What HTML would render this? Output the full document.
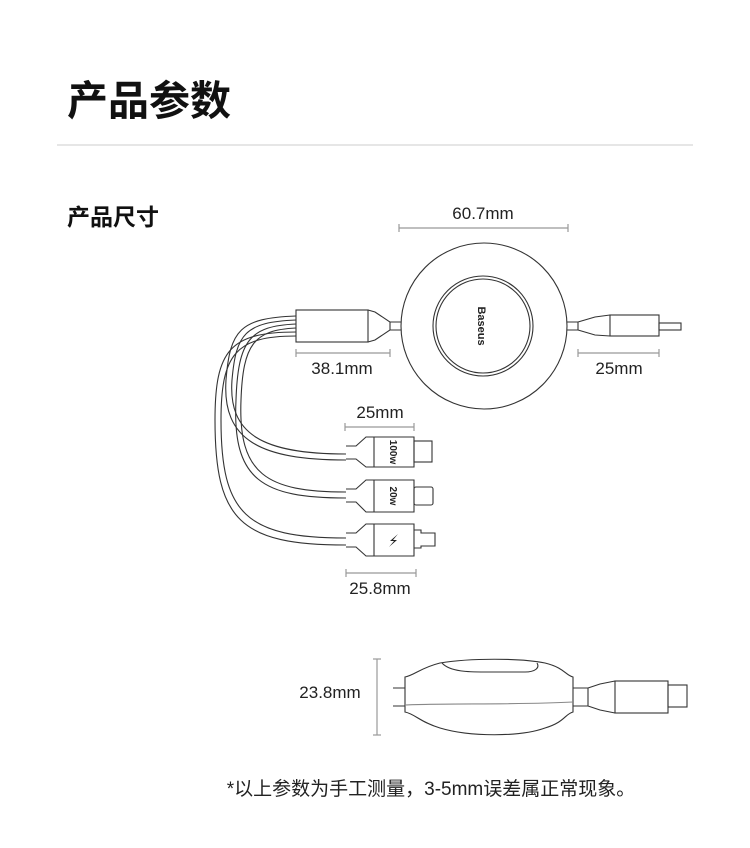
<!DOCTYPE html>
<html><head><meta charset="utf-8"><style>
body{margin:0;background:#fff;width:750px;height:843px;overflow:hidden}
</style></head><body>
<svg width="750" height="843" viewBox="0 0 750 843" xmlns="http://www.w3.org/2000/svg" font-family="Liberation Sans, Noto Sans CJK SC, sans-serif">
<text x="67" y="115" font-size="41" font-weight="bold" fill="#111" font-family="Liberation Sans, Noto Sans CJK SC, sans-serif">产品参数</text>
<line x1="57" y1="145" x2="693" y2="145" stroke="#ccc" stroke-width="1"/>
<text x="67" y="225" font-size="23" font-weight="bold" fill="#111" font-family="Liberation Sans, Noto Sans CJK SC, sans-serif">产品尺寸</text>

<g stroke="#999" stroke-width="1.2" fill="none">
<line x1="399" y1="228" x2="568" y2="228"/><line x1="399" y1="224" x2="399" y2="232"/><line x1="568" y1="224" x2="568" y2="232"/>
<line x1="296" y1="353" x2="390" y2="353"/><line x1="296" y1="349" x2="296" y2="357"/><line x1="390" y1="349" x2="390" y2="357"/>
<line x1="578" y1="353" x2="659" y2="353"/><line x1="578" y1="349" x2="578" y2="357"/><line x1="659" y1="349" x2="659" y2="357"/>
<line x1="345" y1="427" x2="414" y2="427"/><line x1="345" y1="423" x2="345" y2="431"/><line x1="414" y1="423" x2="414" y2="431"/>
<line x1="346" y1="573" x2="416" y2="573"/><line x1="346" y1="569" x2="346" y2="577"/><line x1="416" y1="569" x2="416" y2="577"/>
<line x1="377" y1="659" x2="377" y2="735"/><line x1="373" y1="659" x2="381" y2="659"/><line x1="373" y1="735" x2="381" y2="735"/>
</g>
<g font-size="17" fill="#222" text-anchor="middle">
<text x="483" y="219">60.7mm</text>
<text x="342" y="374">38.1mm</text>
<text x="619" y="374">25mm</text>
<text x="380" y="418">25mm</text>
<text x="380" y="594">25.8mm</text>
<text x="330" y="698">23.8mm</text>
</g>

<g stroke="#333" stroke-width="1.1" fill="none">
<circle cx="484" cy="326" r="83"/>
<circle cx="483" cy="326" r="50"/>
<circle cx="483" cy="326" r="47"/>
<rect x="296" y="310" width="72" height="32"/>
<path d="M368 310 L375 312 L390 322 L390 330 L375 340 L368 342"/>
<path d="M390 322 L401 322 M390 330 L401 330"/>
<path d="M567 322 L578 322 L578 330 L567 330 M578 322 L595 317 L610 315 M578 330 L595 335 L610 336"/>
<rect x="610" y="315" width="49" height="21"/>
<rect x="659" y="323" width="22" height="7"/>
<path d="M296 316 C240 318 230 330 226 380 C222 440 260 460 346 460"/>
<path d="M296 320 C245 322 236 334 232 380 C228 434 262 454 346 454"/>
<path d="M296 324 C250 326 238 340 236 400 C232 480 262 498 346 498"/>
<path d="M296 328 C254 330 243 344 241 400 C238 474 266 492 346 492"/>
<path d="M296 332 C230 332 215 350 215 420 C215 520 240 545 346 545"/>
<path d="M296 336 C236 336 221 354 221 420 C221 514 246 538 346 538"/>
<g>
<path d="M346 446 L356 446 L366 437 L414 437 L414 467 L366 467 L356 459 L346 459"/>
<line x1="374" y1="437" x2="374" y2="467"/>
<rect x="414" y="441" width="18" height="21"/>
</g>
<g>
<path d="M346 489 L356 489 L366 480 L414 480 L414 512 L366 512 L356 502 L346 502"/>
<line x1="374" y1="480" x2="374" y2="512"/>
<rect x="414" y="487" width="19" height="18" rx="2"/>
</g>
<g>
<path d="M346 533 L356 533 L366 524 L414 524 L414 556 L366 556 L356 547 L346 547"/>
<line x1="374" y1="524" x2="374" y2="556"/>
<path d="M414 530 L421 530 L421 533 L435 533 L435 546 L421 546 L421 548 L414 548"/>
</g>
<path d="M405 677 C415 675 420 668 440 663 C470 658 520 658 545 663 C565 668 565 675 573 677 L573 712 C565 714 565 722 545 728 C520 737 470 737 440 728 C420 722 415 714 405 712 Z"/>
<path d="M442 663 C450 672 470 672 485 672 L525 672 C535 672 540 668 537 663"/>
<path d="M405 705 C440 703 520 705 573 702" stroke="#888"/>
<path d="M393 688 L405 688 M393 706 L405 706"/>
<path d="M573 688 L588 688 L588 706 L573 706 M588 688 L600 684 L615 681 M588 706 L600 710 L615 713"/>
<rect x="615" y="681" width="53" height="32"/>
<rect x="668" y="685" width="19" height="22"/>
</g>
<text transform="translate(478,326) rotate(90)" font-size="11" font-weight="bold" fill="#222" text-anchor="middle">Baseus</text>
<g font-size="10" font-weight="bold" fill="#222" text-anchor="middle">
<text transform="translate(390,452) rotate(90)">100w</text>
<text transform="translate(390,496) rotate(90)">20w</text>
</g>
<path d="M398 534 L390 541 L394 541 L389 547 L397 540 L393 540 Z" fill="#222"/>
<text x="431" y="795" font-size="19" fill="#222" text-anchor="middle" font-family="Liberation Sans, Noto Sans CJK SC, sans-serif">*以上参数为手工测量，3-5mm误差属正常现象。</text>
</svg>
</body></html>
